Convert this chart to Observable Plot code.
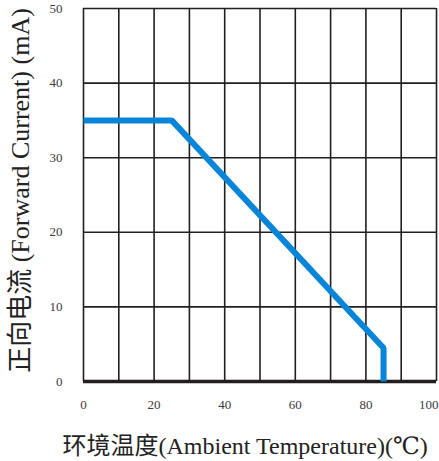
<!DOCTYPE html>
<html>
<head>
<meta charset="utf-8">
<script src="https://cdn.jsdelivr.net/npm/d3@7"></script>
<script src="https://cdn.jsdelivr.net/npm/@observablehq/plot@0.6"></script>
<style>
  html, body { margin: 0; padding: 0; background: #fff; }
</style>
</head>
<body>
<div id="chart"></div>
<script>
// Derating curve data
const temperatures = [0, 25, 85, 85];
const currents = [35, 35, 4.5, 0];

// Tick labels and grid positions
const xTickLabels = [0, 20, 40, 60, 80, 100];
const yTickLabels = [0, 10, 20, 30, 40, 50];
const xGridValues = [0, 10, 20, 30, 40, 50, 60, 70, 80, 90, 100];
const yGridValues = [10, 20, 30, 40, 50];

const xTitle = "环境温度(Ambient Temperature)(℃)";
const yTitle = "正向电流 (Forward Current) (mA)";

const data = temperatures.map((t, i) => ({t, c: currents[i]}));

const gridColor = "#231f20";
const serif = "'Liberation Serif', 'DejaVu Serif', 'Noto Sans CJK SC', serif";

const chart = Plot.plot({
  width: 439,
  height: 461,
  marginLeft: 83,
  marginRight: 3,
  marginTop: 8,
  marginBottom: 80,
  x: {domain: [0, 100]},
  y: {domain: [0, 50]},
  style: {fontFamily: serif, background: "#fff", color: "#3a3a3a"},
  marks: [
    Plot.ruleX(xGridValues, {stroke: gridColor, strokeWidth: 1.6}),
    Plot.ruleY(yGridValues, {stroke: gridColor, strokeWidth: 1.6}),
    Plot.ruleY([0], {stroke: gridColor, strokeWidth: 3.5}),
    Plot.line(data, {x: "t", y: "c", stroke: "#0785d8", strokeWidth: 6,
      strokeLinejoin: "miter", strokeLinecap: "butt"}),
    Plot.axisX({ticks: xTickLabels, tickSize: 0, tickPadding: 18, fontSize: 13, label: null}),
    Plot.axisY({ticks: yTickLabels, tickSize: 0, tickPadding: 21, fontSize: 13, label: null}),
    Plot.text([xTitle], {frameAnchor: "bottom-left", textAnchor: "start", lineAnchor: "bottom",
      dx: -21, dy: 72, fontSize: 24, fill: "#222"}),
    Plot.text([yTitle], {frameAnchor: "left", textAnchor: "middle", lineAnchor: "bottom",
      rotate: -90, dx: -55, dy: -4.5, fontSize: 26, fill: "#222"})
  ]
});

document.getElementById("chart").appendChild(chart);

// keep last x tick label inside the picture
const xLabels = d3.select(chart).selectAll("g[aria-label='x-axis tick label'] text").nodes();
if (xLabels.length) {
  d3.select(xLabels[xLabels.length - 1]).attr("text-anchor", "end").attr("dx", 2);
}
</script>
</body>
</html>
